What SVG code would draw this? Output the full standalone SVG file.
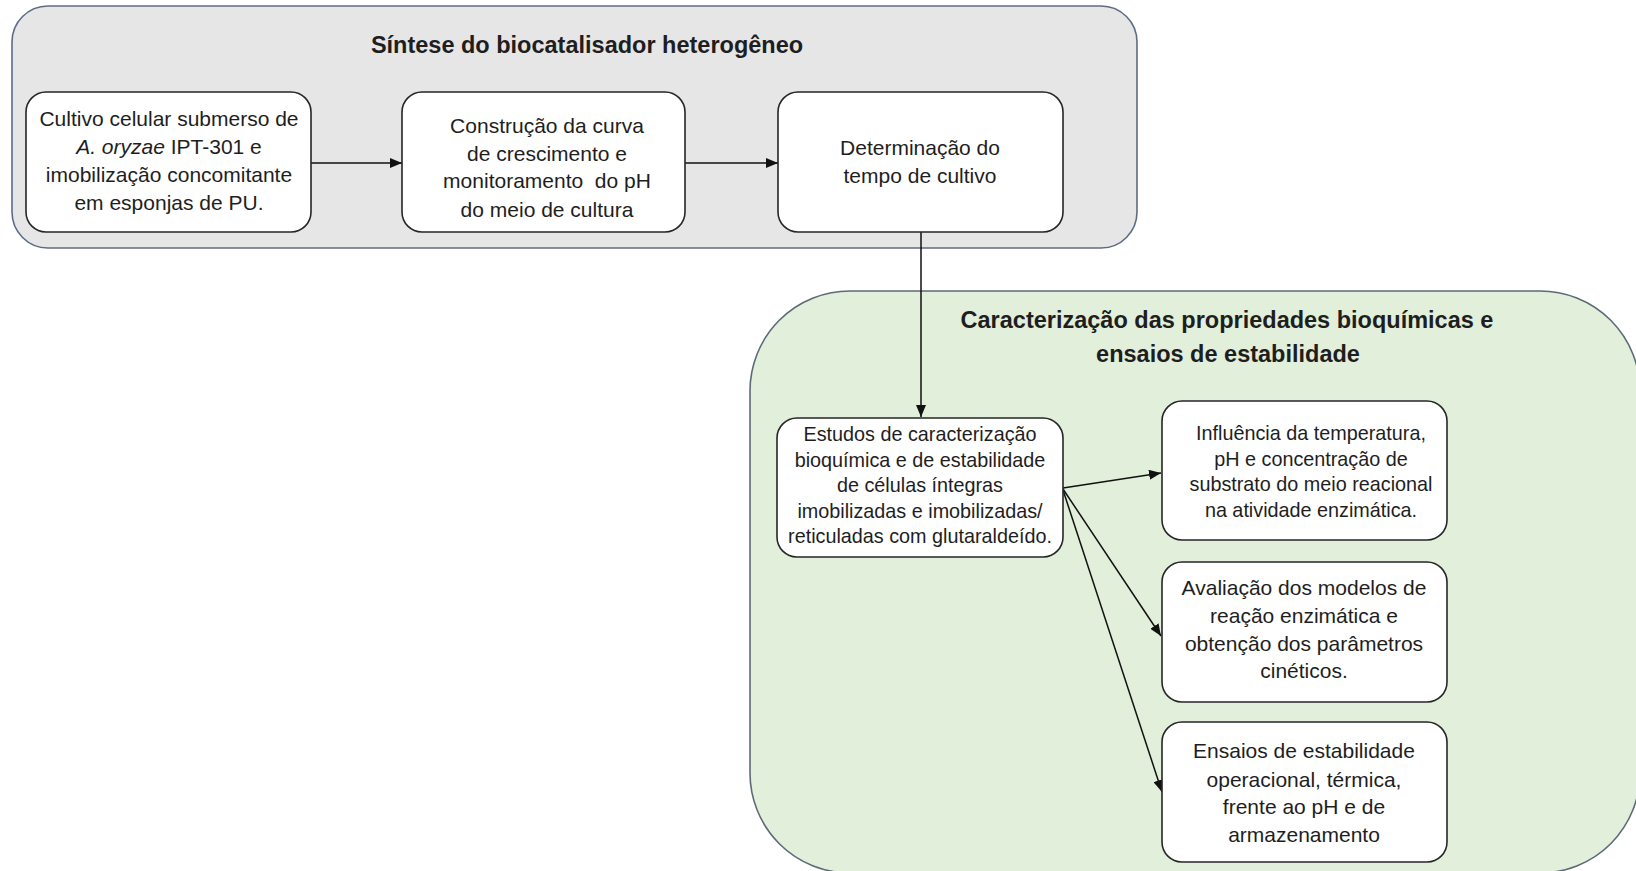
<svg xmlns="http://www.w3.org/2000/svg" width="1636" height="871" viewBox="0 0 1636 871">
<style>
  .t { font-family: "Liberation Sans", Arial, sans-serif; fill: #1e1e1e; text-anchor: middle; }
  .title { font-weight: bold; font-size: 23.5px; }
  .n21 { font-size: 21px; }
  .n20 { font-size: 19.8px; }
  .node { fill: #ffffff; stroke: #262626; stroke-width: 1.6; }
  .conn { stroke: #111; stroke-width: 1.5; fill: none; marker-end: url(#arr); }
</style>
<defs>
  <marker id="arr" markerUnits="userSpaceOnUse" markerWidth="12" markerHeight="10" refX="12" refY="5" orient="auto">
    <path d="M0,0 L12,5 L0,10 z" fill="#111"/>
  </marker>
</defs>
<rect width="1636" height="871" fill="#ffffff"/>

<g id="group-sintese">
  <rect x="12" y="6" width="1125" height="242" rx="36" ry="36" fill="#e7e6e6" stroke="#5d6c86" stroke-width="1.6"/>
  <text class="t title" x="587" y="53">Síntese do biocatalisador heterogêneo</text>
</g>

<g id="group-caracterizacao">
  <rect x="750" y="291" width="890" height="582" rx="100" ry="100" fill="#e2efda" stroke="#5c6b78" stroke-width="1.6"/>
  <text class="t title" x="1227" y="328">Caracterização das propriedades bioquímicas e</text>
  <text class="t title" x="1228" y="362">ensaios de estabilidade</text>
</g>

<g id="connectors">
  <line class="conn" x1="311" y1="163" x2="402" y2="163"/>
  <line class="conn" x1="685" y1="163" x2="778" y2="163"/>
  <line class="conn" x1="921" y1="232" x2="921" y2="417"/>
  <line class="conn" x1="1063" y1="488" x2="1161" y2="473"/>
  <line class="conn" x1="1063" y1="489" x2="1161" y2="636"/>
  <line class="conn" x1="1063" y1="490" x2="1162" y2="792"/>
</g>

<g id="node-cultivo">
  <rect class="node" x="26" y="92" width="285" height="140" rx="20" ry="20"/>
  <text class="t n21" x="169" y="126">Cultivo celular submerso de</text>
  <text class="t n21" x="169" y="154"><tspan font-style="italic">A. oryzae</tspan> IPT-301 e</text>
  <text class="t n21" x="169" y="182">imobilização concomitante</text>
  <text class="t n21" x="169" y="210">em esponjas de PU.</text>
</g>

<g id="node-curva">
  <rect class="node" x="402" y="92" width="283" height="140" rx="20" ry="20"/>
  <text class="t n21" x="547" y="133">Construção da curva</text>
  <text class="t n21" x="547" y="161">de crescimento e</text>
  <text class="t n21" x="547" y="188" xml:space="preserve">monitoramento  do pH</text>
  <text class="t n21" x="547" y="217">do meio de cultura</text>
</g>

<g id="node-tempo">
  <rect class="node" x="778" y="92" width="285" height="140" rx="20" ry="20"/>
  <text class="t n21" x="920" y="155">Determinação do</text>
  <text class="t n21" x="920" y="183">tempo de cultivo</text>
</g>

<g id="node-estudos">
  <rect class="node" x="777" y="418" width="286" height="139" rx="20" ry="20"/>
  <text class="t n20" x="920" y="441">Estudos de caracterização</text>
  <text class="t n20" x="920" y="466.5">bioquímica e de estabilidade</text>
  <text class="t n20" x="920" y="492">de células íntegras</text>
  <text class="t n20" x="920" y="517.5">imobilizadas e imobilizadas/</text>
  <text class="t n20" x="920" y="543">reticuladas com glutaraldeído.</text>
</g>

<g id="node-influencia">
  <rect class="node" x="1162" y="401" width="285" height="139" rx="20" ry="20"/>
  <text class="t n20" x="1311" y="440">Influência da temperatura,</text>
  <text class="t n20" x="1311" y="465.5">pH e concentração de</text>
  <text class="t n20" x="1311" y="491">substrato do meio reacional</text>
  <text class="t n20" x="1311" y="516.5">na atividade enzimática.</text>
</g>

<g id="node-avaliacao">
  <rect class="node" x="1162" y="562" width="285" height="140" rx="20" ry="20"/>
  <text class="t n21" x="1304" y="595">Avaliação dos modelos  de</text>
  <text class="t n21" x="1304" y="623">reação enzimática e</text>
  <text class="t n21" x="1304" y="651">obtenção dos parâmetros</text>
  <text class="t n21" x="1304" y="678">cinéticos.</text>
</g>

<g id="node-ensaios">
  <rect class="node" x="1162" y="722" width="285" height="140" rx="20" ry="20"/>
  <text class="t n21" x="1304" y="758">Ensaios de estabilidade</text>
  <text class="t n21" x="1304" y="787">operacional, térmica,</text>
  <text class="t n21" x="1304" y="814">frente ao pH e de</text>
  <text class="t n21" x="1304" y="842">armazenamento</text>
</g>
</svg>
